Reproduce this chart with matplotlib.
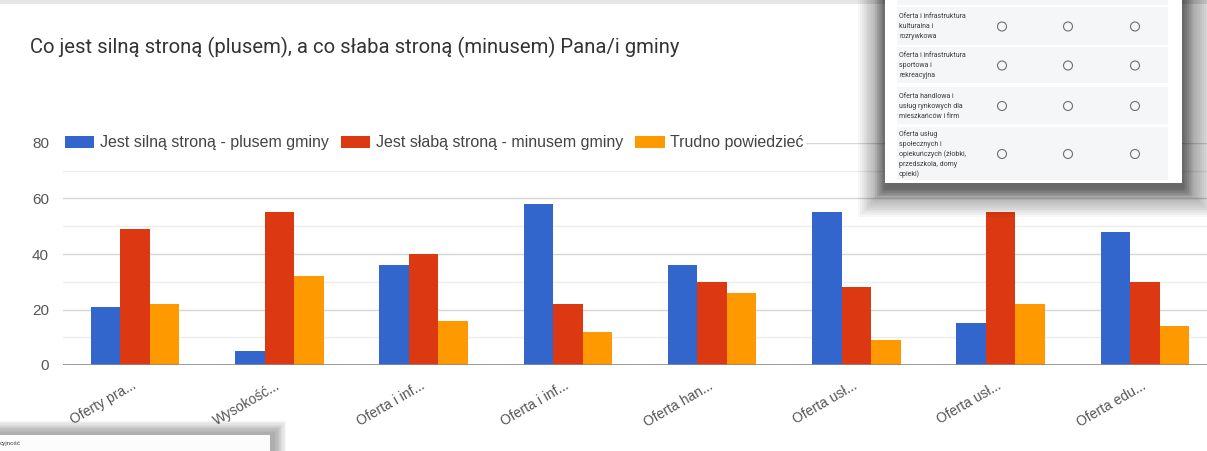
import matplotlib
matplotlib.use('Agg')
import matplotlib.pyplot as plt
from matplotlib.patches import Rectangle, Circle

# chart data
categories = ['Oferty pra...', 'Wysokość...', 'Oferta i inf...', 'Oferta i inf...',
              'Oferta han...', 'Oferta usł...', 'Oferta usł...', 'Oferta edu...']
plus = [21, 5, 36, 58, 36, 55, 15, 48]
minus = [49, 55, 40, 22, 30, 28, 55, 30]
unsure = [22, 32, 16, 12, 26, 9, 22, 14]
series_labels = ['Jest silną stroną - plusem gminy',
                 'Jest słabą stroną - minusem gminy',
                 'Trudno powiedzieć']
y_major = [0, 20, 40, 60, 80]
y_minor = [10, 30, 50, 70]

# rows of the form screenshot overlapping the chart (top right)
form_rows = [
    ['Oferta i infrastruktura', 'kulturalna i', 'rozrywkowa'],
    ['Oferta i infrastruktura', 'sportowa i', 'rekreacyjna'],
    ['Oferta handlowa i', 'usług rynkowych dla', 'mieszkańców i firm'],
    ['Oferta usług', 'społecznych i', 'opiekuńczych (żłobki,', 'przedszkola, domy', 'opieki)'],
]
bottom_snippet = 'cyjność'

BLUE = '#3366CC'
RED = '#DC3912'
ORANGE = '#FF9900'

W, H = 1207, 451
fig = plt.figure(figsize=(W / 100, H / 100), dpi=100)
fig.patch.set_facecolor('white')

# main axes, placed in pixel terms
left, right, bottom, top = 63, 1217, 365, 143
ax = fig.add_axes([left / W, (H - bottom) / H, (right - left) / W, (bottom - top) / H])
ax.set_xlim(-0.5, len(categories) - 0.5)
ax.set_ylim(0, 80)

bw = 0.205
x = list(range(len(categories)))
ax.bar([i - bw for i in x], plus, bw, color=BLUE, zorder=3, label=series_labels[0])
ax.bar(x, minus, bw, color=RED, zorder=3, label=series_labels[1])
ax.bar([i + bw for i in x], unsure, bw, color=ORANGE, zorder=3, label=series_labels[2])

for v in y_minor:
    ax.axhline(v, color='#ededed', lw=1, zorder=1)
for v in y_major[1:]:
    ax.axhline(v, color='#d6d6d6', lw=1, zorder=1)
ax.axhline(0, color='#8a8a8a', lw=1.2, zorder=4)

for s in ax.spines.values():
    s.set_visible(False)
ax.set_yticks(y_major)
ax.set_yticklabels([str(v) for v in y_major], fontsize=11, color='#555555',
                   family='Liberation Sans')
ax.tick_params(axis='y', length=0, pad=10)
ax.set_xticks(x)
ax.set_xticklabels(categories, rotation=30, ha='right', va='center',
                   rotation_mode='anchor', fontsize=10, color='#555555',
                   family='Liberation Sans')
ax.tick_params(axis='x', length=0, pad=14)
ax.patch.set_alpha(0)

leg = ax.legend(loc='center left', bbox_to_anchor=(0, 1), ncol=3, frameon=True,
                facecolor='white', edgecolor='white', framealpha=1,
                prop={'family': 'Liberation Sans', 'size': 11.5},
                handlelength=1.85, handleheight=0.82, handletextpad=0.35,
                columnspacing=0.75, borderpad=0.1, borderaxespad=0)
for t in leg.get_texts():
    t.set_color('#444444')

fig.text(30 / W, 1 - 47 / H, 'Co jest silną stroną (plusem), a co słaba stroną (minusem) Pana/i gminy',
         fontsize=14.6, family='Roboto', color='#333333', va='center', ha='left')

# overlay: pieces of other screenshots lying on top of the chart
ov = fig.add_axes([0, 0, 1, 1], zorder=10)
ov.set_xlim(0, W)
ov.set_ylim(H, 0)
ov.axis('off')
ov.patch.set_alpha(0)


def shadow(x0, y0, x1, y1, spread, dx=0, dy=0, layers=16, alpha=0.03):
    for i in range(layers):
        s = spread * (i + 1) / layers
        ov.add_patch(Rectangle((x0 - s + dx, y0 - s + dy), (x1 - x0) + 2 * s, (y1 - y0) + 2 * s,
                               facecolor='black', alpha=alpha, lw=0))


# thin browser band at the top
ov.add_patch(Rectangle((0, 0), W, 4, facecolor='#e6e6e6', lw=0))

# top-right form card
cx0, cx1, cy1 = 885, 1182, 183
shadow(cx0, -20, cx1, cy1, 30, dx=3, dy=4)
shadow(cx0, -20, cx1, cy1, 10, dx=0, dy=5, layers=6, alpha=0.05)
ov.add_patch(Rectangle((cx0, -5), cx1 - cx0, cy1 + 5, facecolor='white', lw=0))
ov.add_patch(Rectangle((897, -5), 1168 - 897, 10, facecolor='#f5f6f7', lw=0))
row_spans = [(7, 46), (47, 84), (87, 125), (127, 181)]
for (ry0, ry1), lines in zip(row_spans, form_rows):
    ov.add_patch(Rectangle((897, ry0), 1168 - 897, ry1 - ry0 - 1, facecolor='#f5f6f7', lw=0))
    yc = (ry0 + ry1) / 2
    n = len(lines)
    for k, line in enumerate(lines):
        ov.text(899, yc + (k - (n - 1) / 2) * 10, line, fontsize=5, family='Roboto',
                color='#3c3c3c', va='center', ha='left')
    for cxp in (1002, 1068, 1135):
        ov.add_patch(Circle((cxp, yc), 4.5, facecolor='none', edgecolor='#6f6f6f', lw=0.8))

# bottom-left form card
shadow(-20, 435, 270, 470, 12, dx=4, dy=-2, layers=10, alpha=0.035)
ov.add_patch(Rectangle((0, 435), 270, 25, facecolor='#fcfcfc', lw=0))
ov.text(0, 444, bottom_snippet, fontsize=4.5, family='Roboto', color='#444444',
        va='center', ha='left')

fig.savefig('out.png', dpi=100)
